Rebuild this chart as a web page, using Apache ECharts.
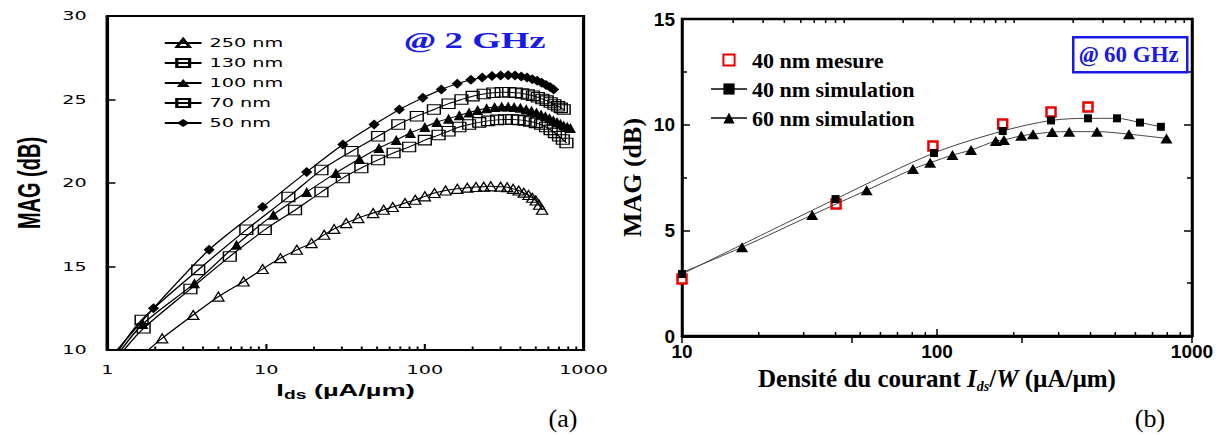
<!DOCTYPE html>
<html><head><meta charset="utf-8">
<script src="https://cdn.jsdelivr.net/npm/echarts@6.0.0/dist/echarts.min.js"></script>
<style>
html,body{margin:0;padding:0;background:#fff;}
#wrap{position:relative;width:1225px;height:435px;overflow:hidden;background:#fff;}
#b{position:absolute;left:0;top:0;width:1225px;height:435px;}
#a{position:absolute;left:0;top:0;width:383px;height:435px;transform:scaleX(1.6);transform-origin:0 0;}
</style></head><body>
<div id="wrap"><div id="b"></div><div id="a"></div></div>
<script>
// ---------- Panel (a) data : MAG (dB) vs Ids (uA/um) @ 2 GHz ----------
const namesA = ['250 nm', '130 nm', '100 nm', '70 nm', '50 nm'];
const minorTicksA = [2,3,4,5,6,7,8,9,20,30,40,50,60,70,80,90,200,300,400,500,600,700,800,900];

const I250 = [1.81, 2.21, 3.47, 5.0, 7.2, 9.5, 12.3, 15.6, 19.3, 23.2, 26.8, 31.9, 38, 47.2, 55, 62.7, 75, 87, 100, 115, 135, 160, 185, 210, 235, 260, 300, 330, 360, 390, 420, 450, 475, 500, 525, 548];
const G250 = [10.0, 10.7, 12.1, 13.2, 14.1, 14.85, 15.5, 16.0, 16.4, 16.9, 17.25, 17.6, 17.9, 18.2, 18.4, 18.56, 18.8, 19.0, 19.2, 19.4, 19.55, 19.65, 19.72, 19.76, 19.78, 19.8, 19.78, 19.75, 19.65, 19.55, 19.42, 19.28, 19.12, 18.95, 18.7, 18.4];

const I130 = [1.18, 1.64, 3.73, 7.5, 13.8, 22.3, 34.5, 50.7, 68, 89, 114, 141, 170, 200, 235, 270, 305, 340, 375, 410, 445, 480, 515, 550, 585, 620, 655, 690, 720, 750];
const G130 = [10.0, 11.8, 14.8, 17.2, 19.16, 20.78, 21.9, 22.8, 23.5, 24.0, 24.4, 24.75, 25.0, 25.2, 25.33, 25.4, 25.43, 25.43, 25.4, 25.36, 25.3, 25.22, 25.13, 25.03, 24.93, 24.82, 24.7, 24.6, 24.5, 24.4];

const I100 = [1.22, 1.67, 3.53, 6.5, 11.1, 18, 27.5, 38.7, 51.4, 66, 81, 100, 119, 141, 165, 190, 215, 245, 275, 305, 335, 365, 400, 435, 470, 505, 540, 575, 610, 645, 680, 715, 750, 790, 826];
const G100 = [10.0, 11.55, 14.0, 16.3, 18.1, 19.46, 20.6, 21.44, 22.1, 22.57, 23.0, 23.35, 23.65, 23.85, 24.05, 24.22, 24.37, 24.48, 24.55, 24.58, 24.58, 24.55, 24.5, 24.42, 24.32, 24.22, 24.1, 24.0, 23.88, 23.76, 23.65, 23.55, 23.45, 23.37, 23.3];

const I70 = [1.27, 1.69, 3.33, 5.9, 9.8, 15.2, 22.3, 30.4, 39.8, 50.7, 63.5, 79.6, 100, 122, 141, 165, 190, 220, 250, 285, 320, 355, 390, 425, 460, 500, 540, 580, 620, 660, 700, 740, 780];
const G70 = [10.0, 11.3, 13.65, 15.6, 17.2, 18.38, 19.46, 20.3, 20.9, 21.38, 21.8, 22.16, 22.57, 22.87, 23.1, 23.35, 23.5, 23.63, 23.72, 23.78, 23.8, 23.8, 23.78, 23.74, 23.68, 23.6, 23.5, 23.35, 23.18, 23.0, 22.8, 22.6, 22.4];

const I50 = [1.15, 1.95, 4.37, 9.5, 18, 30.4, 47.9, 69, 97, 127, 160, 195, 230, 265, 300, 335, 370, 405, 440, 475, 510, 545, 580, 615, 648];
const G50 = [10.0, 12.5, 16.0, 18.56, 20.66, 22.3, 23.5, 24.4, 25.1, 25.6, 25.95, 26.18, 26.32, 26.4, 26.44, 26.45, 26.43, 26.38, 26.32, 26.22, 26.12, 26.0, 25.87, 25.75, 25.6];

// ---------- Panel (b) data : MAG (dB) vs Ids/W @ 60 GHz ----------
const namesB = ['40 nm mesure', '40 nm simulation', '60 nm simulation'];
const minorTicksB = [20,30,40,50,60,70,80,90,200,300,400,500,600,700,800,900];
const minorTicksBTop = [2,3,4,5,6,7,8,9,20,30,40,50,60,70,80,90,200,300,400,500,600,700,800,900];

const I40m = [10, 40.2, 96.4, 181, 280, 391];
const G40m = [2.7, 6.25, 8.99, 10.03, 10.6, 10.84];
const I40s = [10, 40, 97.3, 181, 280, 391, 508, 625, 755];
const G40s = [2.93, 6.48, 8.66, 9.7, 10.2, 10.3, 10.3, 10.1, 9.9];
const I60s = [10, 17.2, 32.4, 53, 80.5, 94, 115, 136, 170, 183, 214, 238, 283, 330, 424, 566, 794];
const G60s = [3.0, 4.2, 5.73, 6.9, 7.9, 8.2, 8.56, 8.8, 9.23, 9.28, 9.47, 9.55, 9.65, 9.67, 9.67, 9.55, 9.35];

function pairs(xs, ys, noMarkFirst) {
  return xs.map((x, i) => (noMarkFirst && i === 0) ? {value: [x, ys[i]], symbol: 'none'} : [x, ys[i]]);
}
function tickItem(len, w) {
  return function (params, api) {
    const p = api.coord([api.value(0), api.value(1)]);
    return {type: 'line', shape: {x1: p[0], y1: p[1], x2: p[0], y2: p[1] + len},
            style: {stroke: '#000', lineWidth: w}};
  };
}
const plainNum = v => String(v);

// ================= Chart (b) + panel captions =================
const chartB = echarts.init(document.getElementById('b'), null, {renderer: 'svg', width: 1225, height: 435});
const serif = 'Liberation Serif';
const sansB = {fontFamily: 'Liberation Sans', fontWeight: 'bold', fontSize: 19, color: '#000'};
chartB.setOption({
  animation: false,
  backgroundColor: 'transparent',
  grid: {left: 682, right: 33, top: 19, bottom: 99, show: true, borderColor: '#000', borderWidth: 2.5},
  legend: {
    data: namesB, orient: 'vertical', left: 710, top: 49, padding: 0,
    itemWidth: 36, itemHeight: 14, itemGap: 7,
    textStyle: {fontFamily: serif, fontWeight: 'bold', fontSize: 22, color: '#000', lineHeight: 22}
  },
  xAxis: [
    {type: 'log', logBase: 10, min: 10, max: 1000, position: 'bottom',
     axisLine: {lineStyle: {color: '#000', width: 2.5}},
     axisTick: {inside: true, length: 7, lineStyle: {color: '#000', width: 1.5}},
     minorTick: {show: false}, splitLine: {show: false},
     axisLabel: Object.assign({margin: 6, formatter: plainNum}, sansB),
     name: '{n|Densité du courant }{i|I}{s|ds}{n|/}{i|W}{n| (µA/µm)}',
     nameLocation: 'middle', nameGap: 26,
     nameTextStyle: {rich: {
       n: {fontFamily: serif, fontWeight: 'bold', fontSize: 25, color: '#000', lineHeight: 30},
       i: {fontFamily: serif, fontWeight: 'bold', fontStyle: 'italic', fontSize: 25, color: '#000', lineHeight: 30},
       s: {fontFamily: serif, fontWeight: 'bold', fontStyle: 'italic', fontSize: 14, color: '#000', lineHeight: 12, verticalAlign: 'bottom'}
     }}},
    {type: 'log', logBase: 10, min: 1, max: 1000, position: 'top',
     axisLine: {show: true, lineStyle: {color: '#000', width: 2.5}},
     axisTick: {show: true, inside: true, length: 7, lineStyle: {color: '#000', width: 1.5}},
     axisLabel: {show: false}, splitLine: {show: false}, minorTick: {show: false}}
  ],
  yAxis: [
    {type: 'value', min: 0, max: 15, interval: 5,
     axisLine: {show: true, lineStyle: {color: '#000', width: 2.5}},
     axisTick: {show: true, inside: true, length: 8, lineStyle: {color: '#000', width: 1.5}},
     minorTick: {show: true, splitNumber: 2, length: 5, lineStyle: {color: '#000', width: 1.5}},
     splitLine: {show: false},
     axisLabel: Object.assign({margin: 7}, sansB),
     name: 'MAG (dB)', nameLocation: 'middle', nameGap: 37,
     nameTextStyle: {fontFamily: serif, fontWeight: 'bold', fontSize: 26, color: '#000'}},
    {type: 'value', min: 0, max: 15, interval: 5, position: 'right',
     axisLine: {show: true, lineStyle: {color: '#000', width: 2.5}},
     axisTick: {show: true, inside: true, length: 8, lineStyle: {color: '#000', width: 1.5}},
     minorTick: {show: true, splitNumber: 2, length: 5, lineStyle: {color: '#000', width: 1.5}},
     splitLine: {show: false}, axisLabel: {show: false}}
  ],
  series: [
    {name: namesB[0], type: 'line', data: pairs(I40m, G40m), symbol: 'rect', symbolSize: 9,
     itemStyle: {color: '#ffffff', borderColor: '#ee0000', borderWidth: 2.5},
     lineStyle: {width: 0, opacity: 0}, z: 3},
    {name: namesB[1], type: 'line', data: pairs(I40s, G40s), smooth: 0.3, symbol: 'rect', symbolSize: 8,
     itemStyle: {color: '#000'}, lineStyle: {color: '#444', width: 1}, z: 4},
    {name: namesB[2], type: 'line', data: pairs(I60s, G60s, true), smooth: 0.3, symbol: 'triangle', symbolSize: [12, 10],
     itemStyle: {color: '#000'}, lineStyle: {color: '#444', width: 1}, z: 4},
    {type: 'custom', silent: true, clip: false, xAxisIndex: 0, yAxisIndex: 0, z: 6,
     renderItem: tickItem(-4, 1.5), data: minorTicksB.map(v => [v, 0]), encode: {x: 0, y: 1}},
    {type: 'custom', silent: true, clip: false, xAxisIndex: 1, yAxisIndex: 0, z: 6,
     renderItem: tickItem(4, 1.5), data: minorTicksBTop.map(v => [v, 15]), encode: {x: 0, y: 1}}
  ],
  graphic: [
    {type: 'rect', left: 1072, top: 36, shape: {width: 114, height: 35}, z: 10,
     style: {fill: '#fff', stroke: '#1a1ae6', lineWidth: 2.5}},
    {type: 'text', x: 1129, y: 54, z: 11,
     style: {text: '{i|@}{n| 60 GHz}', textAlign: 'center', textVerticalAlign: 'middle',
       rich: {i: {fontFamily: serif, fontWeight: 'bold', fontStyle: 'italic', fontSize: 23, fill: '#1a1ae6'},
              n: {fontFamily: serif, fontWeight: 'bold', fontSize: 23, fill: '#1a1ae6'}}}},
    {type: 'text', x: 563, y: 418, style: {text: '(a)', font: '26px "Liberation Serif"', fill: '#000', textAlign: 'center', textVerticalAlign: 'middle'}},
    {type: 'text', x: 1150, y: 418, style: {text: '(b)', font: '26px "Liberation Serif"', fill: '#000', textAlign: 'center', textVerticalAlign: 'middle'}}
  ]
});

// ================= Chart (a) (horizontally stretched panel) =================
const chartA = echarts.init(document.getElementById('a'), null, {renderer: 'svg', width: 383, height: 435});
const sansA = {fontFamily: 'DejaVu Sans', fontSize: 12, color: '#000'};
const lineA = {color: '#000', width: 1};
chartA.setOption({
  animation: false,
  backgroundColor: 'transparent',
  grid: {left: 61.25, right: 17.4, top: 16, bottom: 85, show: true, borderColor: '#000', borderWidth: 2},
  legend: {
    data: namesA, orient: 'vertical', left: 102, top: 37, padding: 0,
    itemWidth: 23, itemHeight: 10, itemGap: 8,
    textStyle: Object.assign({lineHeight: 12}, sansA)
  },
  xAxis: {type: 'log', logBase: 10, min: 1, max: 1000,
    axisLine: {lineStyle: {color: '#000', width: 2}},
    axisTick: {inside: true, length: 6, lineStyle: {color: '#000', width: 1.3}},
    minorTick: {show: false}, splitLine: {show: false},
    axisLabel: Object.assign({margin: 14, formatter: plainNum}, sansA),
    name: '{b|I}{s|ds}{b| (µA/µm)}', nameLocation: 'middle', nameGap: 29,
    nameTextStyle: {rich: {
      b: {fontFamily: 'Liberation Sans', fontWeight: 'bold', fontSize: 17, color: '#000', lineHeight: 22},
      s: {fontFamily: 'Liberation Sans', fontWeight: 'bold', fontSize: 12, color: '#000', lineHeight: 12, verticalAlign: 'bottom'}
    }}},
  yAxis: {type: 'value', min: 10, max: 30, interval: 5,
    axisLine: {show: true, lineStyle: {color: '#000', width: 2}},
    axisTick: {show: true, inside: true, length: 5, lineStyle: {color: '#000', width: 1.5}},
    splitLine: {show: false},
    axisLabel: Object.assign({margin: 13}, sansA),
    name: 'MAG (dB)', nameLocation: 'middle', nameGap: 34,
    nameTextStyle: {fontFamily: 'Liberation Sans', fontWeight: 'bold', fontSize: 20, color: '#000'}},
  series: [
    {name: namesA[0], type: 'line', smooth: 0.3, data: pairs(I250, G250, true), symbol: 'triangle', symbolSize: [7, 9],
     itemStyle: {color: 'rgba(0,0,0,0)', borderColor: '#000', borderWidth: 1}, lineStyle: lineA},
    {name: namesA[1], type: 'line', smooth: 0.3, data: pairs(I130, G130, true), symbol: 'rect', symbolSize: [8, 9.5],
     itemStyle: {color: 'rgba(0,0,0,0)', borderColor: '#000', borderWidth: 1}, lineStyle: lineA},
    {name: namesA[2], type: 'line', smooth: 0.3, data: pairs(I100, G100, true), symbol: 'triangle', symbolSize: [7, 10],
     itemStyle: {color: '#000'}, lineStyle: lineA},
    {name: namesA[3], type: 'line', smooth: 0.3, data: pairs(I70, G70, true), symbol: 'rect', symbolSize: [8, 9.5],
     itemStyle: {color: 'rgba(0,0,0,0)', borderColor: '#000', borderWidth: 1}, lineStyle: lineA},
    {name: namesA[4], type: 'line', smooth: 0.3, data: pairs(I50, G50, true), symbol: 'diamond', symbolSize: [7, 10],
     itemStyle: {color: '#000'}, lineStyle: lineA},
    {type: 'custom', silent: true, clip: false, z: 6,
     renderItem: tickItem(-3.5, 1.2), data: minorTicksA.map(v => [v, 10]), encode: {x: 0, y: 1}}
  ],
  graphic: [
    {type: 'text', x: 297, y: 41,
     style: {text: '{i|@}{n| 2 GHz}', textAlign: 'center', textVerticalAlign: 'middle',
       rich: {i: {fontFamily: 'Liberation Serif', fontWeight: 'bold', fontStyle: 'italic', fontSize: 23, fill: '#1a1ae6'},
              n: {fontFamily: 'Liberation Serif', fontWeight: 'bold', fontSize: 23, fill: '#1a1ae6'}}}}
  ]
});
</script></body></html>
